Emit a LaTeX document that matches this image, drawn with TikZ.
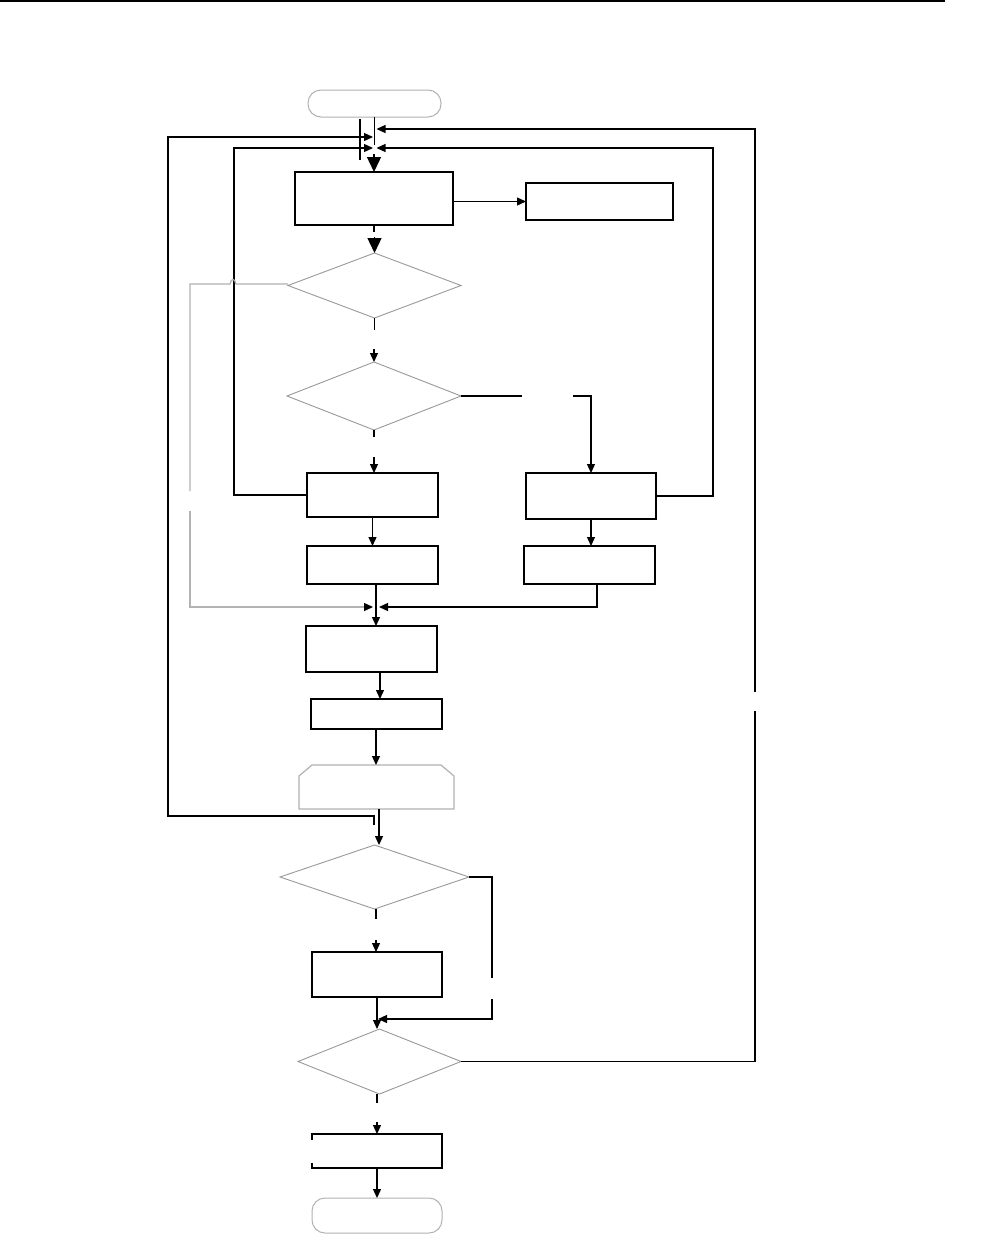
\documentclass[tikz,border=0pt]{standalone}
\usetikzlibrary{shapes.geometric,arrows.meta,calc}
\begin{document}
\begin{tikzpicture}[x=1pt,y=-1pt,
  proc/.style={draw=black, line width=1.3pt, rectangle, inner sep=0pt, outer sep=0pt},
  blank/.style={rectangle, inner sep=0pt, outer sep=0pt},
  term/.style={draw=gray!60, line width=1pt, rectangle, rounded corners=13pt, inner sep=0pt, outer sep=0pt},
  dec/.style={draw=gray!80, line width=0.9pt, diamond, inner sep=0pt, outer sep=0pt},
  ln/.style={line width=1.3pt, black},
  gln/.style={line width=1.3pt, gray!60},
  arr/.style={ln, -{Triangle[length=9pt,width=8pt]}},
  garr/.style={gln, -{Triangle[length=9pt,width=8pt,color=black,fill=black]}},
  bigarr/.style={ln, -{Triangle[length=15pt,width=14pt]}},
]
\useasboundingbox (0,0) rectangle (981,1234);
\fill[white] (0,0) rectangle (981,1234);
% top rule
\coordinate (r0) at (0,1);
\coordinate (r1) at (945,1);
\draw[line width=1.2pt] (r0) -- (r1);

% nodes
\node[term, minimum width=133, minimum height=27] (start) at (374.5,103.5) {};
\node[proc, minimum width=158, minimum height=53] (b1) at (374,198.5) {};
\node[proc, minimum width=147, minimum height=37] (b2) at (599.5,201.5) {};
\node[dec, minimum width=173, minimum height=65] (d1) at (374.5,285.5) {};
\node[dec, minimum width=174, minimum height=68] (d2) at (374,396) {};
\node[proc, minimum width=131, minimum height=44] (b3) at (372.5,495) {};
\node[proc, minimum width=130, minimum height=46] (b4) at (591,496) {};
\node[proc, minimum width=131, minimum height=38] (b5) at (372.5,565) {};
\node[proc, minimum width=131, minimum height=38] (b6) at (589.5,565) {};
\node[proc, minimum width=131, minimum height=46] (b7) at (371.5,649) {};
\node[proc, minimum width=131, minimum height=30] (b8) at (376.5,714) {};
\node[blank, minimum width=155, minimum height=44] (lp) at (376.5,787) {};
\draw[gray!60, line width=1.2pt] ($(lp.south west)$) -- ($(lp.north west)+(0,11)$) -- ($(lp.north west)+(13,0)$) -- ($(lp.north east)+(-13,0)$) -- ($(lp.north east)+(0,11)$) -- (lp.south east) -- cycle;
\node[dec, minimum width=189, minimum height=64] (d3) at (374.5,877) {};
\node[proc, minimum width=130, minimum height=45] (b10) at (377,974.5) {};
\node[dec, minimum width=163, minimum height=65] (d4) at (379.5,1061.5) {};
\node[blank, minimum width=130, minimum height=34] (b11) at (377,1151) {};
\draw[ln] ($(b11.north west)+(0,6)$) -- (b11.north west) -- (b11.north east) -- (b11.south east) -- (b11.south west) -- ++(0,-5);
\node[term, minimum width=130, minimum height=35] (end) at (377,1215.5) {};

% junction coordinates
\coordinate (j1) at (376,607);
\coordinate (j2) at (378,1019);

% top area
\coordinate (lv0) at (360,119);
\coordinate (lv1) at (360,160);
\draw[ln] (lv0) -- (lv1);
\draw[ln] (start.south) -- ++(0,28);
\draw[bigarr] ($(b1.north)+(0,-18)$) -- (b1.north);
\draw[bigarr] ($(d1.north)+(0,-16)$) -- (d1.north);
\draw[ln] (b1.south) -- ++(0,7);

% b1 -> b2
\draw[arr] (b1.east |- b2.west) -- (b2.west);

% d1 -> d2
\draw[ln] (d1.south) -- ++(0,12);
\draw[arr] ($(d2.north)+(0,-13)$) -- (d2.north);
% d2 -> b3
\draw[ln] (d2.south) -- ++(0,7);
\draw[arr] ($(b3.north -| d2.south)+(0,-16)$) -- (b3.north -| d2.south);
% d2 -> b4
\coordinate (g1) at (522,396);
\coordinate (g2) at (573,396);
\draw[ln] (d2.east) -- (g1);
\draw[arr] (g2) -- (g2 -| b4.north) -- (b4.north);

% inner loops
\draw[arr] (b3.west) -| (234,148) -- (373,148);
\draw[arr] (b4.east) -| (713,148) -- (376.5,148);

% b3->b5, b4->b6
\draw[arr] (b3.south) -- (b5.north);
\draw[arr] (b4.south) -- (b4.south |- b6.north);

% merge at j1
\draw[ln] (b5.south -| j1) -- (j1);
\draw[arr] (597,584) -- (597,607) -- (379,607);
\draw[arr] (j1) -- (j1 |- b7.north);

% gray line from d1
\coordinate (gA) at (236,284);
\draw[gln] (d1.west |- gA) -- (gA) .. controls (235,278) and (231,278) .. (230,284) -- (190,284) -- (190,491);
\draw[garr] (190,511) -- (190,607) -- (373,607);

% chain
\draw[arr] (380,672) -- (380,699);
\draw[arr] (376,729) -- (376,765);
\draw[arr] (379,809) -- (379,845);

% outer left loop
\draw[arr] (374,825) -- (374,816) -- (168,816) -- (168,137) -- (373,137);

% d3 -> b10
\draw[ln] (376,909) -- (376,919);
\draw[arr] (376,940) -- (376,952);
% d3 right
\draw[ln] (d3.east) -- (492,877) -- (492,978);
\draw[arr] (492,999) -- (492,1019) -- (j2);
% b10 -> d4
\draw[arr] (b10.south) -- (b10.south |- d4.north);

% outer right loop
\draw[ln] (d4.east) -- (755,1061.5) -- (755,711);
\draw[arr] (755,692) -- (755,129) -- (376.5,129);

% d4 -> b11
\draw[ln] (377,1094) -- (377,1103);
\draw[arr] (377,1122) -- (b11.north);
% b11 -> end
\draw[arr] (b11.south) -- (end.north);
\end{tikzpicture}
\end{document}
